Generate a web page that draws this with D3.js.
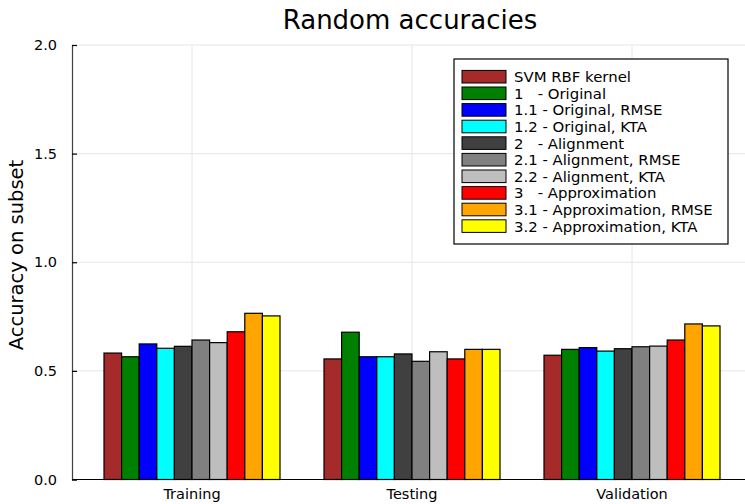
<!doctype html>
<html>
  <head>
    <meta charset="utf-8">
    <title>Random accuracies</title>
    <script src="https://cdn.jsdelivr.net/npm/d3@7"></script>
    <style>
      body { margin: 0; background: #fff; }
      svg text { font-family: "DejaVu Sans", sans-serif; fill: #000; }
    </style>
  </head>
  <body>
    <script>
      // categories on the x axis
      const subsets = ['Training', 'Testing', 'Validation'];

      // one entry per model / series
      const models = [
        'SVM RBF kernel',
        '1   - Original',
        '1.1 - Original, RMSE',
        '1.2 - Original, KTA',
        '2   - Alignment',
        '2.1 - Alignment, RMSE',
        '2.2 - Alignment, KTA',
        '3   - Approximation',
        '3.1 - Approximation, RMSE',
        '3.2 - Approximation, KTA'
      ];
      const colors = ['#a52a2a', '#008000', '#0000ff', '#00ffff', '#404040',
                      '#808080', '#bebebe', '#ff0000', '#ffa500', '#ffff00'];

      // accuracy per model, in order Training / Testing / Validation
      const trainAcc = [0.582, 0.565, 0.624, 0.604, 0.613, 0.642, 0.630, 0.680, 0.765, 0.753];
      const testAcc  = [0.555, 0.678, 0.565, 0.565, 0.578, 0.544, 0.588, 0.555, 0.599, 0.599];
      const validAcc = [0.572, 0.599, 0.607, 0.591, 0.602, 0.611, 0.614, 0.642, 0.716, 0.707];

      const yTicks = [0, 0.5, 1.0, 1.5, 2.0];

      const width = 745, height = 504;
      const plotLeft = 72, plotRight = 745, plotTop = 45, plotBottom = 479.5;

      const table = subsets.map((s, i) => ({
        subset: s,
        values: [trainAcc, testAcc, validAcc][i]
      }));

      const svg = d3.select('body').append('svg')
          .attr('width', width)
          .attr('height', height);

      const x = d3.scaleBand()
          .domain(subsets)
          .range([82, 742])
          .paddingInner(0.2)
          .paddingOuter(0.1);

      const xInner = d3.scaleBand()
          .domain(models)
          .range([0, x.bandwidth()]);

      const y = d3.scaleLinear()
          .domain([0, 2])
          .range([plotBottom, plotTop]);

      // grid
      svg.append('g')
        .selectAll('line')
        .data(yTicks.filter(d => d > 0))
        .join('line')
          .attr('x1', plotLeft).attr('x2', plotRight)
          .attr('y1', d => y(d)).attr('y2', d => y(d))
          .attr('stroke', '#e6e6e6');

      svg.append('g')
        .selectAll('line')
        .data(subsets)
        .join('line')
          .attr('x1', d => x(d) + x.bandwidth() / 2)
          .attr('x2', d => x(d) + x.bandwidth() / 2)
          .attr('y1', plotTop).attr('y2', plotBottom)
          .attr('stroke', '#e6e6e6');

      // bars
      const groups = svg.append('g')
        .selectAll('g')
        .data(table)
        .join('g')
          .attr('transform', d => `translate(${x(d.subset)},0)`);

      groups.selectAll('rect')
        .data(d => d.values.map((v, i) => ({ model: models[i], value: v, color: colors[i] })))
        .join('rect')
          .attr('x', d => xInner(d.model))
          .attr('y', d => y(d.value))
          .attr('width', xInner.bandwidth())
          .attr('height', d => plotBottom - y(d.value))
          .attr('fill', d => d.color)
          .attr('stroke', '#000')
          .attr('stroke-width', 1.2);

      // y axis
      const yAxis = svg.append('g')
          .attr('transform', `translate(${plotLeft},0)`)
          .call(d3.axisLeft(y).tickValues(yTicks).tickFormat(d3.format('.1f')).tickSize(-5).tickPadding(15));
      yAxis.select('.domain').attr('stroke', '#404040').attr('stroke-width', 1.2);
      yAxis.selectAll('.tick line').attr('stroke', '#000').attr('stroke-width', 1.2);
      yAxis.selectAll('.tick text').attr('font-size', '14.5px').attr('font-family', 'DejaVu Sans');

      // x axis
      const xAxis = svg.append('g')
          .attr('transform', `translate(0,${plotBottom})`)
          .call(d3.axisBottom(x).tickSize(0).tickPadding(9));
      xAxis.select('.domain').remove();
      xAxis.selectAll('.tick text').attr('font-size', '14.5px').attr('font-family', 'DejaVu Sans');
      svg.append('line')
          .attr('x1', plotLeft).attr('x2', plotRight)
          .attr('y1', plotBottom).attr('y2', plotBottom)
          .attr('stroke', '#000').attr('stroke-width', 1.2);

      // title and axis label
      svg.append('text')
          .attr('x', 410).attr('y', 29)
          .attr('text-anchor', 'middle')
          .attr('font-size', '26px')
          .text('Random accuracies');

      svg.append('text')
          .attr('transform', 'translate(23,255) rotate(-90)')
          .attr('text-anchor', 'middle')
          .attr('font-size', '19.5px')
          .text('Accuracy on subset');

      // legend
      const legend = svg.append('g').attr('transform', 'translate(454,59)');
      legend.append('rect')
          .attr('width', 274).attr('height', 185)
          .attr('fill', '#fff').attr('stroke', '#000').attr('stroke-width', 1.2);

      const rows = legend.selectAll('g')
        .data(models)
        .join('g')
          .attr('transform', (d, i) => `translate(0,${17.7 + i * 16.6})`);
      rows.append('rect')
          .attr('x', 8).attr('y', -6.3)
          .attr('width', 44).attr('height', 12.6)
          .attr('fill', (d, i) => colors[i])
          .attr('stroke', '#000').attr('stroke-width', 1);
      rows.append('text')
          .attr('x', 60).attr('y', 5.4)
          .attr('font-size', '14.9px')
          .style('white-space', 'pre')
          .text(d => d);
    </script>
  </body>
</html>
